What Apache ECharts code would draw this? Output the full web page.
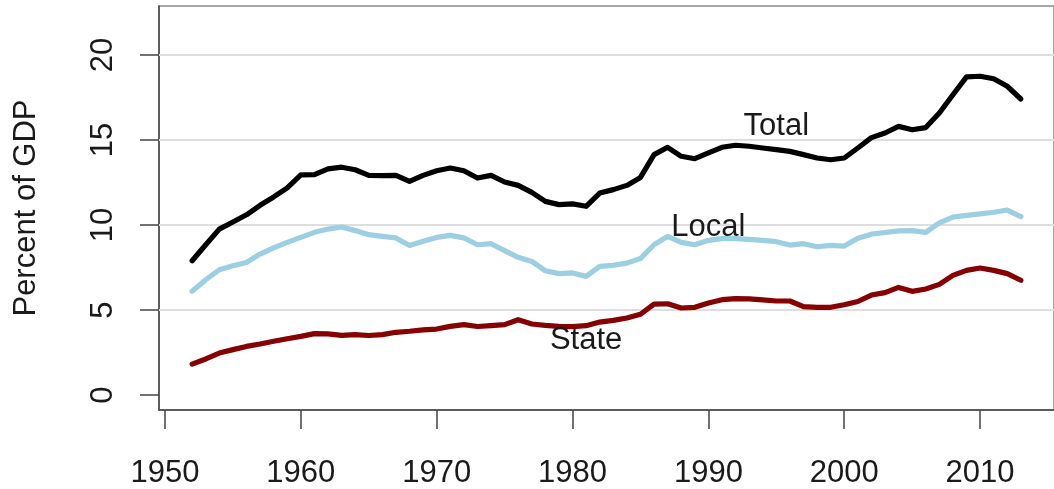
<!DOCTYPE html>
<html>
<head>
<meta charset="utf-8">
<script src="https://cdn.jsdelivr.net/npm/echarts@6/dist/echarts.min.js"></script>
<style>
  html, body { margin: 0; padding: 0; background: #fff; }
  #main { width: 1054px; height: 489px; }
</style>
</head>
<body>
<div id="main"></div>
<script>
var years = [];
for (var y = 1952; y <= 2013; y++) years.push(y);

// percent of GDP
var total = [
  7.9, 8.84, 9.76, 10.18, 10.6, 11.16, 11.65, 12.18, 12.95, 12.96,
  13.3, 13.4, 13.25, 12.92, 12.9, 12.92, 12.57, 12.92, 13.19, 13.35,
  13.19, 12.76, 12.92, 12.53, 12.33, 11.92, 11.39, 11.2, 11.24, 11.1,
  11.88, 12.08, 12.33, 12.8, 14.14, 14.57, 14.04, 13.9, 14.24, 14.57,
  14.69, 14.63, 14.53, 14.43, 14.33, 14.14, 13.94, 13.84, 13.94, 14.53,
  15.14, 15.41, 15.8, 15.6, 15.73, 16.59, 17.66, 18.71, 18.75, 18.6,
  18.16, 17.41
];
var local = [
  6.1, 6.78, 7.37, 7.6, 7.8, 8.29, 8.65, 8.98, 9.27, 9.57,
  9.76, 9.88, 9.67, 9.43, 9.33, 9.24, 8.8, 9.04, 9.27, 9.39,
  9.24, 8.84, 8.9, 8.49, 8.1, 7.86, 7.31, 7.14, 7.18, 6.98,
  7.57, 7.63, 7.76, 8.03, 8.84, 9.33, 8.98, 8.84, 9.1, 9.2,
  9.2, 9.16, 9.1, 9.02, 8.82, 8.9, 8.72, 8.8, 8.76, 9.22,
  9.46, 9.56, 9.65, 9.67, 9.57, 10.12, 10.47, 10.57, 10.65, 10.75,
  10.88, 10.49
];
var state = [
  1.82, 2.12, 2.47, 2.67, 2.86, 3.0, 3.16, 3.31, 3.45, 3.61,
  3.6, 3.51, 3.55, 3.5, 3.55, 3.69, 3.75, 3.83, 3.88, 4.04,
  4.14, 4.03, 4.08, 4.14, 4.43, 4.18, 4.1, 4.04, 4.02, 4.08,
  4.29, 4.39, 4.53, 4.75, 5.35, 5.37, 5.12, 5.16, 5.41, 5.61,
  5.67, 5.65, 5.6, 5.53, 5.53, 5.2, 5.16, 5.16, 5.31, 5.5,
  5.88, 6.02, 6.33, 6.1, 6.24, 6.51, 7.04, 7.33, 7.47, 7.33,
  7.14, 6.75
];

var xTicks = [1950, 1960, 1970, 1980, 1990, 2000, 2010];
var yTicks = [0, 5, 10, 15, 20];
var gridValues = [5, 10, 15, 20];

// text labels placed in the plot: [year, value, text]
var annotations = [
  [1995, 15.82, 'Total'],
  [1990, 9.85, 'Local'],
  [1981, 3.22, 'State']
];

var FONT = '"Liberation Sans", Arial, Helvetica, sans-serif';

function pairs(vals) {
  return vals.map(function (v, i) { return [years[i], v]; });
}

var chartDom = document.getElementById('main');
var myChart = echarts.init(chartDom, null, { renderer: 'canvas' });

var option = {
  backgroundColor: '#ffffff',
  animation: false,
  grid: {
    left: 159,
    top: 6,
    width: 898,
    height: 406,
    show: true,
    borderColor: '#8a8a8a',
    borderWidth: 1.5,
    backgroundColor: 'transparent'
  },
  xAxis: {
    type: 'value',
    min: 1949.56,
    max: 2015.44,
    axisLine: { show: true, onZero: false, lineStyle: { color: '#444', width: 1.5 } },
    axisTick: { show: true, customValues: xTicks, length: 19, lineStyle: { color: '#444', width: 1.5 } },
    axisLabel: {
      customValues: xTicks,
      formatter: function (v) { return String(v); },
      fontSize: 31,
      fontFamily: FONT,
      color: '#1a1a1a',
      margin: 48
    },
    splitLine: { show: false }
  },
  yAxis: {
    type: 'value',
    min: -0.88,
    max: 22.88,
    name: 'Percent of GDP',
    nameLocation: 'middle',
    nameRotate: 90,
    nameGap: 117,
    nameTextStyle: { fontSize: 31, fontFamily: FONT, color: '#1a1a1a' },
    axisLine: { show: true, lineStyle: { color: '#444', width: 1.5 } },
    axisTick: { show: true, customValues: yTicks, length: 19, lineStyle: { color: '#444', width: 1.5 } },
    axisLabel: {
      customValues: yTicks,
      rotate: 90,
      fontSize: 31,
      fontFamily: FONT,
      color: '#1a1a1a',
      margin: 40
    },
    splitLine: { show: false }
  },
  series: [
    {
      name: 'State',
      type: 'line',
      data: pairs(state),
      showSymbol: false,
      z: 3,
      lineStyle: { color: '#850000', width: 5.2, join: 'round', cap: 'round' },
      markLine: {
        silent: true,
        z: 1,
        symbol: 'none',
        label: { show: false },
        lineStyle: { color: '#dedede', width: 2, type: 'solid' },
        data: gridValues.map(function (v) { return { yAxis: v }; })
      }
    },
    {
      name: 'Local',
      type: 'line',
      data: pairs(local),
      showSymbol: false,
      z: 3,
      lineStyle: { color: '#9dcfe2', width: 5.2, join: 'round', cap: 'round' }
    },
    {
      name: 'Total',
      type: 'line',
      data: pairs(total),
      showSymbol: false,
      z: 3,
      lineStyle: { color: '#000000', width: 5.2, join: 'round', cap: 'round' }
    },
    {
      name: 'labels',
      type: 'scatter',
      symbolSize: 0,
      z: 4,
      itemStyle: { opacity: 1 },
      data: annotations,
      label: {
        show: true,
        position: 'inside',
        formatter: function (p) { return p.data[2]; },
        fontSize: 31,
        fontFamily: FONT,
        color: '#1a1a1a',
        opacity: 1
      }
    }
  ]
};

option && myChart.setOption(option);
</script>
</body>
</html>
